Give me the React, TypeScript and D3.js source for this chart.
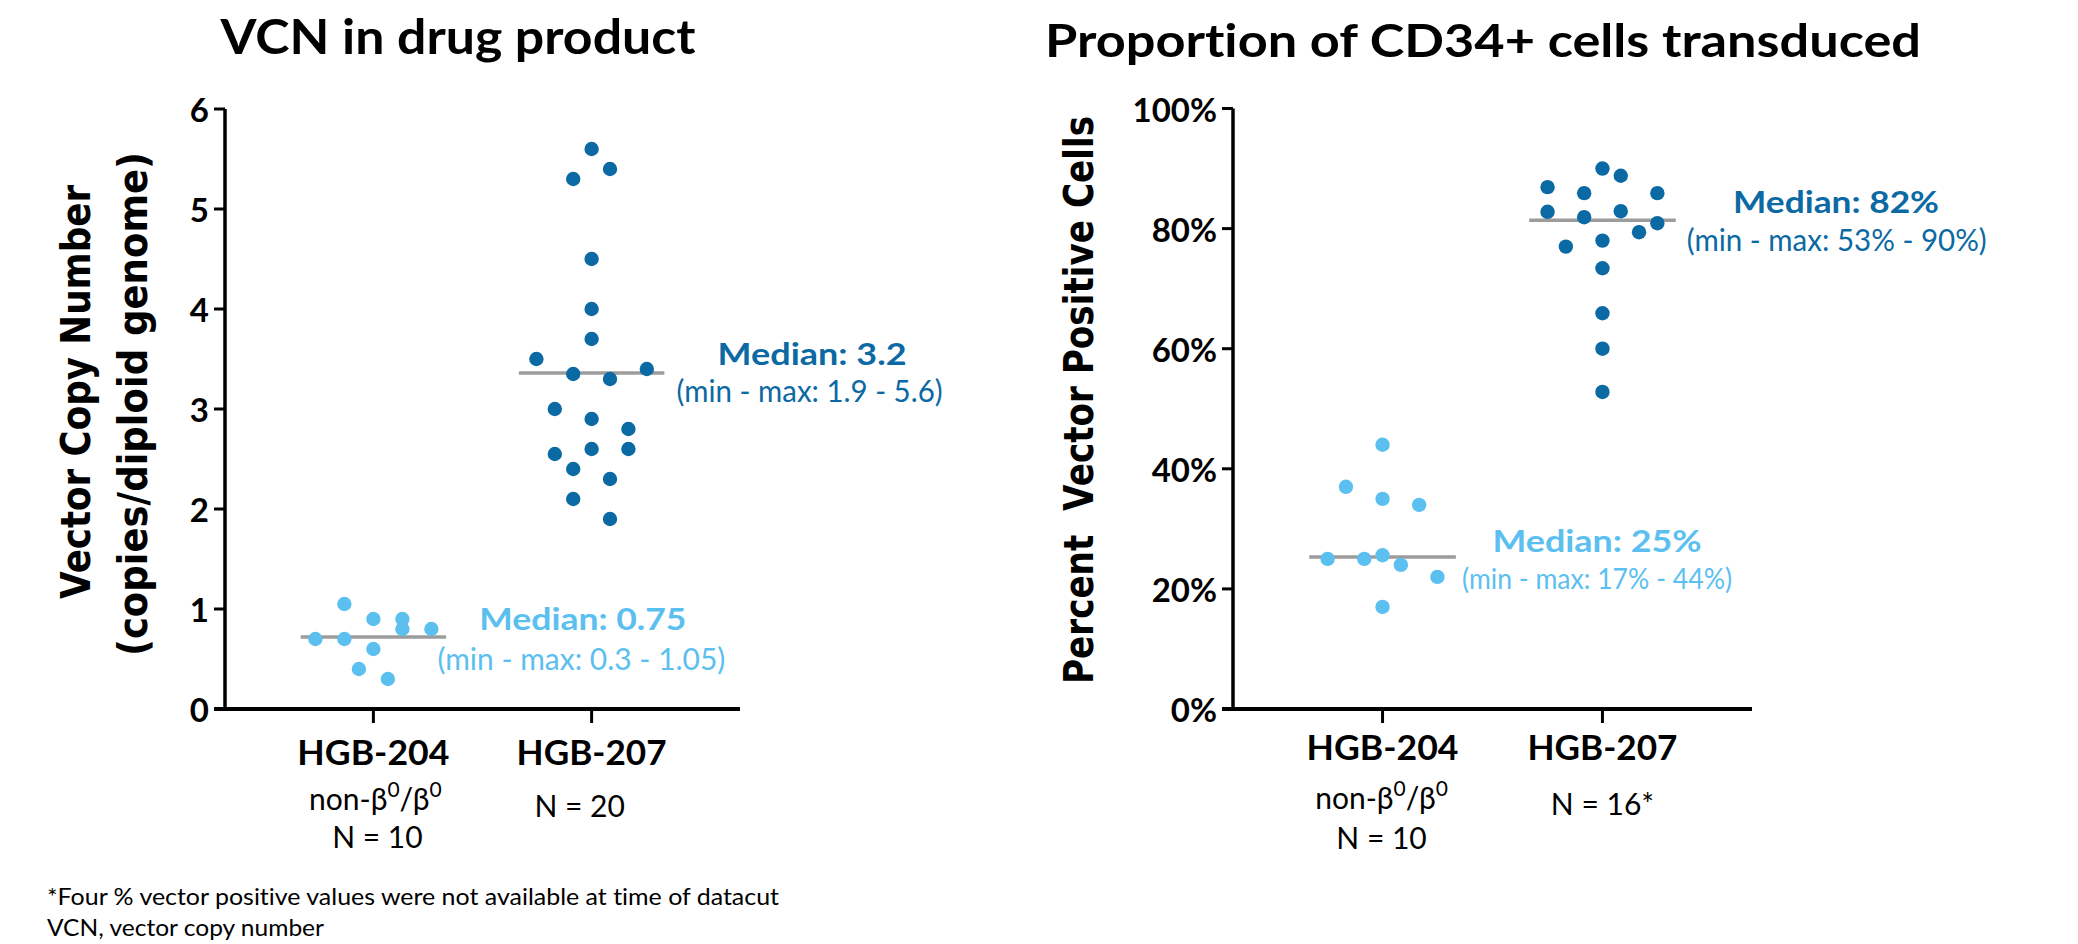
import React from 'react';
import * as d3 from 'd3';

// ---------- DATA ----------
const categories = ['HGB-204', 'HGB-207'];

const vcnTicks = [0, 1, 2, 3, 4, 5, 6];
const pctTicks = [0, 20, 40, 60, 80, 100];

// VCN in drug product
const vcn204 = [1.05, 0.9, 0.9, 0.8, 0.8, 0.7, 0.7, 0.6, 0.4, 0.3];
const vcn204Slot = [-2, 0, 2, 2, 4, -4, -2, 0, -1, 1];
const vcn207 = [5.6, 5.3, 5.4, 4.5, 4.0, 3.7, 3.5, 3.35, 3.3, 3.4, 3.0, 2.9, 2.8, 2.55, 2.6, 2.6, 2.4, 2.3, 2.1, 1.9];
const vcn207Slot = [0, -1, 1, 0, 0, 0, -3, -1, 1, 3, -2, 0, 2, -2, 0, 2, -1, 1, -1, 1];
const vcnMedianLine = [0.72, 3.36];
const vcnMedianText = ['Median: 0.75', 'Median: 3.2'];
const vcnRangeText = ['(min - max: 0.3 - 1.05)', '(min - max: 1.9 - 5.6)'];

// Proportion of CD34+ cells transduced (%)
const pct204 = [44, 37, 35, 34, 25, 25, 25.6, 24, 22, 17];
const pct204Slot = [0, -2, 0, 2, -3, -1, 0, 1, 3, 0];
const pct207 = [90, 88.8, 86.9, 85.9, 85.9, 82.8, 81.9, 82.9, 80.9, 79.4, 77.0, 78.0, 73.4, 65.9, 60, 52.8];
const pct207Slot = [0, 1, -3, -1, 3, -3, -1, 1, 3, 2, -2, 0, 0, 0, 0, 0];
const pctMedianLine = [25.3, 81.4];
const pctMedianText = ['Median: 25%', 'Median: 82%'];
const pctRangeText = ['(min - max: 17% - 44%)', '(min - max: 53% - 90%)'];

const subLabelsLeft = [['non-β0/β0', 'N = 10'], ['N = 20']];
const subLabelsRight = [['non-β0/β0', 'N = 10'], ['N = 16*']];

// ---------- STYLE ----------
const DARK = '#0b69a3';
const LIGHT = '#5bc0ef';
const GREY = '#9c9c9c';
const FONT = "Lato, 'Open Sans', sans-serif";
const YFONT = "'DejaVu Sans', Verdana, sans-serif";
const NOLIG: React.CSSProperties = { fontVariantLigatures: 'none', fontFeatureSettings: '"liga" 0, "clig" 0' };

type Group = { values: number[]; slots: number[]; color: string; spacing: number };

type PanelCfg = {
  title: string; titleX: number; titleY: number; titleSize: number; titleLen: number;
  axisX: number; axisRight: number; yTop: number; yBottom: number; domain: [number, number];
  ticks: number[]; fmt: (d: number) => string;
  groups: Group[]; medians: number[]; medianText: string[]; rangeText: string[];
  ann: { dx: number; dy: number; len: number; rdx: number; rdy: number; rlen: number; rsize: number }[];
  catDy: number; catLen: number[];
  sub: string[][]; subLayout: { dx: number; dy: number }[][];
  yLabel: { text: string; x: number; y: number; len: number }[];
};

const panels: PanelCfg[] = [
  {
    title: 'VCN in drug product', titleX: 458, titleY: 54, titleSize: 48, titleLen: 475,
    axisX: 225, axisRight: 740, yTop: 109, yBottom: 709, domain: [0, 6],
    ticks: vcnTicks, fmt: (d) => String(d),
    groups: [
      { values: vcn204, slots: vcn204Slot, color: LIGHT, spacing: 14.5 },
      { values: vcn207, slots: vcn207Slot, color: DARK, spacing: 18.4 },
    ],
    medians: vcnMedianLine, medianText: vcnMedianText, rangeText: vcnRangeText,
    ann: [
      { dx: 209.5, dy: -7.3, len: 207, rdx: 208, rdy: 33.4, rlen: 288, rsize: 30 },
      { dx: 220.5, dy: -7.7, len: 189, rdx: 218, rdy: 29.3, rlen: 266, rsize: 30 },
    ],
    catDy: 56, catLen: [152, 150],
    sub: subLabelsLeft,
    subLayout: [[{ dx: 2, dy: 101 }, { dx: 4, dy: 139 }], [{ dx: -12, dy: 108 }]],
    yLabel: [
      { text: 'Vector Copy Number', x: 89.5, y: 392, len: 414 },
      { text: '(copies/diploid genome)', x: 147, y: 404, len: 504 },
    ],
  },
  {
    title: 'Proportion of CD34+ cells transduced', titleX: 1483, titleY: 57, titleSize: 46, titleLen: 876,
    axisX: 1233, axisRight: 1752, yTop: 108.5, yBottom: 709, domain: [0, 100],
    ticks: pctTicks, fmt: (d) => d + '%',
    groups: [
      { values: pct204, slots: pct204Slot, color: LIGHT, spacing: 18.3 },
      { values: pct207, slots: pct207Slot, color: DARK, spacing: 18.3 },
    ],
    medians: pctMedianLine, medianText: pctMedianText, rangeText: pctRangeText,
    ann: [
      { dx: 214.5, dy: -5.3, len: 209, rdx: 214.5, rdy: 31.7, rlen: 270, rsize: 28 },
      { dx: 233.6, dy: -7.3, len: 206, rdx: 234.3, rdy: 30.7, rlen: 300, rsize: 30 },
    ],
    catDy: 51, catLen: [152, 150],
    sub: subLabelsRight,
    subLayout: [[{ dx: -1, dy: 100 }, { dx: -1, dy: 140 }], [{ dx: 0, dy: 106 }]],
    yLabel: [{ text: 'Percent  Vector Positive Cells', x: 1093, y: 400, len: 568 }],
  },
];

function SubLabel({ text, x, y }: { text: string; x: number; y: number }) {
  if (text.includes('β0')) {
    const parts = text.split('0');
    return (
      <text x={x} y={y} textAnchor="middle" fontFamily={FONT} fontSize={30} fill="#000" style={NOLIG}>
        <tspan>{parts[0]}</tspan>
        <tspan fontSize={21} dy={-13}>0</tspan>
        <tspan dy={13}>{parts[1]}</tspan>
        <tspan fontSize={21} dy={-13}>0</tspan>
      </text>
    );
  }
  return (
    <text x={x} y={y} textAnchor="middle" fontFamily={FONT} fontSize={30} fill="#000" style={NOLIG}>
      {text}
    </text>
  );
}

function Panel({ cfg }: { cfg: PanelCfg }) {
  const y = d3.scaleLinear().domain(cfg.domain).range([cfg.yBottom, cfg.yTop]);
  const x = d3.scalePoint<string>().domain(categories).range([cfg.axisX, cfg.axisRight]).padding(0.68);
  const step = x.step();
  const tickLen = 11;
  const medHalf = step / 3;

  return (
    <g style={NOLIG}>
      <text x={cfg.titleX} y={cfg.titleY} textAnchor="middle" fontFamily={FONT} fontWeight={700}
        fontSize={cfg.titleSize} textLength={cfg.titleLen} lengthAdjust="spacingAndGlyphs" fill="#000" style={NOLIG}>
        {cfg.title}
      </text>

      {cfg.yLabel.map((l, i) => (
        <text key={i} transform={`translate(${l.x},${l.y}) rotate(-90)`} textAnchor="middle"
          fontFamily={YFONT} fontWeight={700} fontSize={41} textLength={l.len}
          lengthAdjust="spacingAndGlyphs" fill="#000" style={{ whiteSpace: 'pre', ...NOLIG }}>
          {l.text}
        </text>
      ))}

      {/* y axis */}
      <line x1={cfg.axisX} x2={cfg.axisX} y1={y(cfg.domain[1])} y2={y(0) + 1.75} stroke="#000" strokeWidth={3.5} />
      {cfg.ticks.map((t) => (
        <g key={t}>
          <line x1={cfg.axisX - tickLen} x2={cfg.axisX} y1={y(t)} y2={y(t)} stroke="#000" strokeWidth={3} />
          <text x={cfg.axisX - 16} y={y(t) + 13} textAnchor="end" fontFamily={FONT} fontWeight={700}
            fontSize={33} fill="#000" style={NOLIG}>
            {cfg.fmt(t)}
          </text>
        </g>
      ))}

      {/* x axis */}
      <line x1={cfg.axisX - tickLen} x2={cfg.axisRight} y1={y(0)} y2={y(0)} stroke="#000" strokeWidth={4} />
      {categories.map((c, i) => (
        <g key={c}>
          <line x1={x(c)} x2={x(c)} y1={y(0)} y2={y(0) + 14} stroke="#000" strokeWidth={3} />
          <text x={x(c)} y={y(0) + cfg.catDy} textAnchor="middle" fontFamily={FONT} fontWeight={700}
            fontSize={35} textLength={cfg.catLen[i]} lengthAdjust="spacingAndGlyphs" fill="#000" style={NOLIG}>
            {c}
          </text>
          {cfg.sub[i].map((s, j) => (
            <SubLabel key={j} text={s} x={(x(c) as number) + cfg.subLayout[i][j].dx}
              y={y(0) + cfg.subLayout[i][j].dy} />
          ))}
        </g>
      ))}

      {/* medians */}
      {categories.map((c, i) => (
        <line key={'m' + c} x1={(x(c) as number) - medHalf} x2={(x(c) as number) + medHalf}
          y1={y(cfg.medians[i])} y2={y(cfg.medians[i])} stroke={GREY} strokeWidth={3.5} />
      ))}

      {/* dots */}
      {cfg.groups.map((g, gi) => (
        <g key={'g' + gi} fill={g.color}>
          {g.values.map((v, k) => (
            <circle key={k} cx={(x(categories[gi]) as number) + g.slots[k] * g.spacing} cy={y(v)} r={7.2} />
          ))}
        </g>
      ))}

      {/* median annotations */}
      {categories.map((c, i) => {
        const a = cfg.ann[i];
        const cx = x(c) as number;
        const my = y(cfg.medians[i]);
        const col = cfg.groups[i].color;
        return (
          <g key={'a' + c} fill={col} fontFamily={FONT}>
            <text x={cx + a.dx} y={my + a.dy} textAnchor="middle" fontWeight={700} fontSize={31}
              textLength={a.len} lengthAdjust="spacingAndGlyphs" style={NOLIG}>
              {cfg.medianText[i]}
            </text>
            <text x={cx + a.rdx} y={my + a.rdy} textAnchor="middle" fontSize={a.rsize}
              textLength={a.rlen} lengthAdjust="spacingAndGlyphs" style={NOLIG}>
              {cfg.rangeText[i]}
            </text>
          </g>
        );
      })}
    </g>
  );
}

export default function App() {
  return (
    <svg width={2078} height={944} viewBox="0 0 2078 944"
      style={{ position: 'absolute', left: 0, top: 0, background: '#fff' }}>
      <rect width={2078} height={944} fill="#fff" />
      {panels.map((p, i) => (
        <Panel key={i} cfg={p} />
      ))}
      <text x={47} y={905} fontFamily={FONT} fontSize={23} textLength={732} lengthAdjust="spacingAndGlyphs" fill="#000" style={NOLIG}>
        *Four % vector positive values were not available at time of datacut
      </text>
      <text x={47} y={936} fontFamily={FONT} fontSize={23} textLength={277} lengthAdjust="spacingAndGlyphs" fill="#000" style={NOLIG}>
        VCN, vector copy number
      </text>
    </svg>
  );
}
